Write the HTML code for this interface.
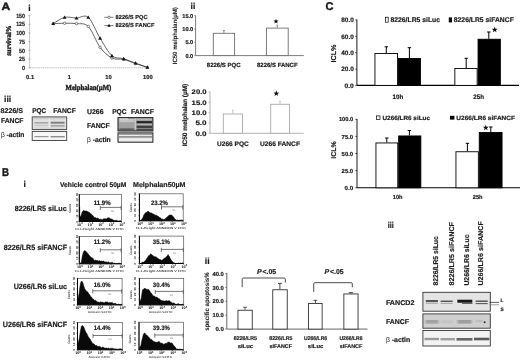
<!DOCTYPE html>
<html lang="en">
<head>
<meta charset="utf-8">
<title>Figure</title>
<style>
html,body{margin:0;padding:0;background:#fff;}
body{width:520px;height:360px;overflow:hidden;font-family:"Liberation Sans",sans-serif;}
svg{display:block;filter:blur(0.4px);}
svg text{font-family:"Liberation Sans",sans-serif;}
</style>
</head>
<body>
<svg width="520" height="360" viewBox="0 0 520 360" text-rendering="geometricPrecision">
<rect x="0" y="0" width="520" height="360" fill="#ffffff"/>
<text x="1.50" y="10.18" font-size="10.5" font-weight="bold" text-anchor="start" fill="#1a1a1a" stroke="#1a1a1a" stroke-width="0.45" textLength="8.70" lengthAdjust="spacingAndGlyphs">A</text>
<text x="325.50" y="9.87" font-size="11.3" font-weight="bold" text-anchor="start" fill="#1a1a1a" stroke="#1a1a1a" stroke-width="0.4" textLength="8.00" lengthAdjust="spacingAndGlyphs">C</text>
<text x="2.00" y="176.17" font-size="11.3" font-weight="bold" text-anchor="start" fill="#1a1a1a" stroke="#1a1a1a" stroke-width="0.4" textLength="7.00" lengthAdjust="spacingAndGlyphs">B</text>
<text x="28.30" y="10.86" font-size="8.5" font-weight="bold" text-anchor="start" fill="#1a1a1a" stroke="#1a1a1a" stroke-width="0.18">i</text>
<line x1="29.60" y1="15.60" x2="29.60" y2="67.80" stroke="#b5b5b5" stroke-width="0.8" />
<line x1="29.60" y1="67.80" x2="148.35" y2="67.80" stroke="#b5b5b5" stroke-width="0.9" stroke-dasharray="1.3 0.6"/>
<line x1="28.40" y1="67.80" x2="30.40" y2="67.80" stroke="#999" stroke-width="0.7" />
<text x="25.00" y="69.96" font-size="6.0" font-weight="bold" text-anchor="end" fill="#1a1a1a" stroke="#1a1a1a" stroke-width="0.18" textLength="3.00" lengthAdjust="spacingAndGlyphs">0</text>
<line x1="28.40" y1="59.10" x2="30.40" y2="59.10" stroke="#999" stroke-width="0.7" />
<text x="25.00" y="61.26" font-size="6.0" font-weight="bold" text-anchor="end" fill="#1a1a1a" stroke="#1a1a1a" stroke-width="0.18" textLength="5.90" lengthAdjust="spacingAndGlyphs">25</text>
<line x1="28.40" y1="50.40" x2="30.40" y2="50.40" stroke="#999" stroke-width="0.7" />
<text x="25.00" y="52.56" font-size="6.0" font-weight="bold" text-anchor="end" fill="#1a1a1a" stroke="#1a1a1a" stroke-width="0.18" textLength="5.90" lengthAdjust="spacingAndGlyphs">50</text>
<line x1="28.40" y1="41.70" x2="30.40" y2="41.70" stroke="#999" stroke-width="0.7" />
<text x="25.00" y="43.86" font-size="6.0" font-weight="bold" text-anchor="end" fill="#1a1a1a" stroke="#1a1a1a" stroke-width="0.18" textLength="5.90" lengthAdjust="spacingAndGlyphs">75</text>
<line x1="28.40" y1="33.00" x2="30.40" y2="33.00" stroke="#999" stroke-width="0.7" />
<text x="25.00" y="35.16" font-size="6.0" font-weight="bold" text-anchor="end" fill="#1a1a1a" stroke="#1a1a1a" stroke-width="0.18" textLength="8.80" lengthAdjust="spacingAndGlyphs">100</text>
<line x1="28.40" y1="24.30" x2="30.40" y2="24.30" stroke="#999" stroke-width="0.7" />
<text x="25.00" y="26.46" font-size="6.0" font-weight="bold" text-anchor="end" fill="#1a1a1a" stroke="#1a1a1a" stroke-width="0.18" textLength="8.80" lengthAdjust="spacingAndGlyphs">125</text>
<line x1="28.40" y1="15.60" x2="30.40" y2="15.60" stroke="#999" stroke-width="0.7" />
<text x="25.00" y="17.76" font-size="6.0" font-weight="bold" text-anchor="end" fill="#1a1a1a" stroke="#1a1a1a" stroke-width="0.18" textLength="8.80" lengthAdjust="spacingAndGlyphs">150</text>
<text x="30.10" y="78.79" font-size="5.8" font-weight="bold" text-anchor="middle" fill="#1a1a1a" stroke="#1a1a1a" stroke-width="0.18">0.1</text>
<text x="69.35" y="78.79" font-size="5.8" font-weight="bold" text-anchor="middle" fill="#1a1a1a" stroke="#1a1a1a" stroke-width="0.18">1</text>
<text x="108.60" y="78.79" font-size="5.8" font-weight="bold" text-anchor="middle" fill="#1a1a1a" stroke="#1a1a1a" stroke-width="0.18">10</text>
<text x="147.85" y="78.79" font-size="5.8" font-weight="bold" text-anchor="middle" fill="#1a1a1a" stroke="#1a1a1a" stroke-width="0.18">100</text>
<text x="88.40" y="89.91" font-size="7.8" font-weight="bold" text-anchor="middle" fill="#1a1a1a" stroke="#1a1a1a" stroke-width="0.4" style='font-family:"Liberation Serif", serif' textLength="45.70" lengthAdjust="spacingAndGlyphs">Melphalan(µM)</text>
<text transform="translate(10.56,40.60) rotate(-90)" font-size="7.4" font-weight="bold" text-anchor="middle" fill="#1a1a1a" stroke="#1a1a1a" stroke-width="0.35" style='font-family:"Liberation Serif", serif' textLength="30.50" lengthAdjust="spacingAndGlyphs">survival%</text>
<path d="M53.23,23.60 C55.05,23.55 60.90,23.26 64.61,23.26 C68.33,23.26 72.67,23.10 76.46,23.60 C80.24,24.11 84.49,22.60 88.27,26.39 C92.05,30.17 96.31,42.20 100.09,47.27 C103.87,52.33 108.12,56.11 111.90,58.06 C115.68,60.00 119.94,58.56 123.72,59.45 C127.50,60.34 131.75,62.37 135.53,63.62 C139.32,64.88 145.46,66.69 147.35,67.28" fill="none" stroke="#333" stroke-width="0.75"/>
<path d="M53.23,23.60 C55.05,22.60 60.90,18.23 64.61,17.34 C68.33,16.45 72.67,18.04 76.46,18.04 C80.24,18.04 84.49,14.11 88.27,17.34 C92.05,20.57 96.31,32.10 100.09,38.22 C103.87,44.34 108.12,52.33 111.90,55.62 C115.68,58.91 119.94,57.55 123.72,58.75 C127.50,59.95 131.75,61.74 135.53,63.10 C139.32,64.47 145.46,66.61 147.35,67.28" fill="none" stroke="#333" stroke-width="0.75"/>
<circle cx="53.23" cy="23.60" r="1.2" fill="#fff" stroke="#333" stroke-width="0.6"/>
<circle cx="64.61" cy="23.26" r="1.2" fill="#fff" stroke="#333" stroke-width="0.6"/>
<circle cx="76.46" cy="23.60" r="1.2" fill="#fff" stroke="#333" stroke-width="0.6"/>
<circle cx="88.27" cy="26.39" r="1.2" fill="#fff" stroke="#333" stroke-width="0.6"/>
<circle cx="100.09" cy="47.27" r="1.2" fill="#fff" stroke="#333" stroke-width="0.6"/>
<circle cx="111.90" cy="58.06" r="1.2" fill="#fff" stroke="#333" stroke-width="0.6"/>
<circle cx="123.72" cy="59.45" r="1.2" fill="#fff" stroke="#333" stroke-width="0.6"/>
<circle cx="135.53" cy="63.62" r="1.2" fill="#fff" stroke="#333" stroke-width="0.6"/>
<circle cx="147.35" cy="67.28" r="1.2" fill="#fff" stroke="#333" stroke-width="0.6"/>
<polygon points="53.23,21.70 51.33,25.12 55.13,25.12" fill="#111"/>
<polygon points="64.61,15.44 62.71,18.86 66.51,18.86" fill="#111"/>
<polygon points="76.46,16.14 74.56,19.56 78.36,19.56" fill="#111"/>
<polygon points="88.27,15.44 86.37,18.86 90.17,18.86" fill="#111"/>
<polygon points="100.09,36.32 98.19,39.74 101.99,39.74" fill="#111"/>
<polygon points="111.90,53.72 110.00,57.14 113.80,57.14" fill="#111"/>
<polygon points="123.72,56.85 121.82,60.27 125.62,60.27" fill="#111"/>
<polygon points="135.53,61.20 133.63,64.62 137.43,64.62" fill="#111"/>
<polygon points="147.35,65.38 145.45,68.80 149.25,68.80" fill="#111"/>
<line x1="104.40" y1="17.30" x2="113.50" y2="17.30" stroke="#444" stroke-width="0.7" />
<circle cx="109.00" cy="17.30" r="1.2" fill="#fff" stroke="#333" stroke-width="0.6"/>
<line x1="104.40" y1="25.60" x2="113.50" y2="25.60" stroke="#444" stroke-width="0.7" />
<polygon points="109.00,23.70 107.30,26.76 110.70,26.76" fill="#111"/>
<text x="115.60" y="19.19" font-size="5.8" font-weight="bold" text-anchor="start" fill="#1a1a1a" stroke="#1a1a1a" stroke-width="0.18" textLength="31.90" lengthAdjust="spacingAndGlyphs">8226/S PQC</text>
<text x="115.60" y="27.39" font-size="5.8" font-weight="bold" text-anchor="start" fill="#1a1a1a" stroke="#1a1a1a" stroke-width="0.18" textLength="38.80" lengthAdjust="spacingAndGlyphs">8226/S FANCF</text>
<text x="190.60" y="9.46" font-size="8.5" font-weight="bold" text-anchor="start" fill="#1a1a1a" stroke="#1a1a1a" stroke-width="0.18">ii</text>
<line x1="195.60" y1="15.50" x2="195.60" y2="55.60" stroke="#6e6e6e" stroke-width="0.9" />
<line x1="195.60" y1="55.60" x2="303.80" y2="55.60" stroke="#6e6e6e" stroke-width="0.9" />
<line x1="194.10" y1="55.60" x2="195.60" y2="55.60" stroke="#6e6e6e" stroke-width="0.7" />
<text x="193.20" y="57.62" font-size="5.6" font-weight="bold" text-anchor="end" fill="#1a1a1a" stroke="#1a1a1a" stroke-width="0.18">0.0</text>
<line x1="194.10" y1="42.27" x2="195.60" y2="42.27" stroke="#6e6e6e" stroke-width="0.7" />
<text x="193.20" y="44.29" font-size="5.6" font-weight="bold" text-anchor="end" fill="#1a1a1a" stroke="#1a1a1a" stroke-width="0.18">5.0</text>
<line x1="194.10" y1="28.94" x2="195.60" y2="28.94" stroke="#6e6e6e" stroke-width="0.7" />
<text x="193.20" y="30.96" font-size="5.6" font-weight="bold" text-anchor="end" fill="#1a1a1a" stroke="#1a1a1a" stroke-width="0.18">10.0</text>
<line x1="194.10" y1="15.61" x2="195.60" y2="15.61" stroke="#6e6e6e" stroke-width="0.7" />
<text x="193.20" y="17.63" font-size="5.6" font-weight="bold" text-anchor="end" fill="#1a1a1a" stroke="#1a1a1a" stroke-width="0.18">15.0</text>
<rect x="213.30" y="33.30" width="21.30" height="22.30" fill="#fff" stroke="#6e6e6e" stroke-width="0.9" />
<rect x="266.40" y="28.10" width="21.80" height="27.50" fill="#fff" stroke="#6e6e6e" stroke-width="0.9" />
<line x1="223.90" y1="30.60" x2="223.90" y2="33.30" stroke="#777" stroke-width="0.8" />
<line x1="222.90" y1="30.60" x2="224.90" y2="30.60" stroke="#777" stroke-width="0.8" />
<line x1="277.30" y1="25.20" x2="277.30" y2="28.10" stroke="#777" stroke-width="0.8" />
<line x1="276.30" y1="25.20" x2="278.30" y2="25.20" stroke="#777" stroke-width="0.8" />
<polygon points="276.00,18.70 276.67,20.48 278.57,20.57 277.08,21.75 277.59,23.58 276.00,22.53 274.41,23.58 274.92,21.75 273.43,20.57 275.33,20.48" fill="#111"/>
<text x="223.70" y="67.36" font-size="6" font-weight="bold" text-anchor="middle" fill="#1a1a1a" stroke="#1a1a1a" stroke-width="0.18" textLength="33.80" lengthAdjust="spacingAndGlyphs">8226/S PQC</text>
<text x="277.30" y="67.36" font-size="6" font-weight="bold" text-anchor="middle" fill="#1a1a1a" stroke="#1a1a1a" stroke-width="0.18" textLength="40.50" lengthAdjust="spacingAndGlyphs">8226/S FANCF</text>
<text transform="translate(177.13,35.80) rotate(-90)" font-size="6.2" font-weight="bold" text-anchor="middle" fill="#1a1a1a" stroke="#1a1a1a" stroke-width="0.05" textLength="57.00" lengthAdjust="spacingAndGlyphs">IC50 melphalan(µM)</text>
<line x1="210.00" y1="91.50" x2="210.00" y2="133.30" stroke="#aaaaaa" stroke-width="0.9" />
<line x1="210.00" y1="133.30" x2="303.80" y2="133.30" stroke="#aaaaaa" stroke-width="0.9" />
<line x1="208.50" y1="133.30" x2="210.00" y2="133.30" stroke="#aaaaaa" stroke-width="0.7" />
<text x="206.60" y="135.68" font-size="6.6" font-weight="bold" text-anchor="end" fill="#1a1a1a" stroke="#1a1a1a" stroke-width="0.18" textLength="11.20" lengthAdjust="spacingAndGlyphs">0.0</text>
<line x1="208.50" y1="122.98" x2="210.00" y2="122.98" stroke="#aaaaaa" stroke-width="0.7" />
<text x="206.60" y="125.36" font-size="6.6" font-weight="bold" text-anchor="end" fill="#1a1a1a" stroke="#1a1a1a" stroke-width="0.18" textLength="11.20" lengthAdjust="spacingAndGlyphs">5.0</text>
<line x1="208.50" y1="112.66" x2="210.00" y2="112.66" stroke="#aaaaaa" stroke-width="0.7" />
<text x="206.60" y="115.04" font-size="6.6" font-weight="bold" text-anchor="end" fill="#1a1a1a" stroke="#1a1a1a" stroke-width="0.18" textLength="15.00" lengthAdjust="spacingAndGlyphs">10.0</text>
<line x1="208.50" y1="102.34" x2="210.00" y2="102.34" stroke="#aaaaaa" stroke-width="0.7" />
<text x="206.60" y="104.72" font-size="6.6" font-weight="bold" text-anchor="end" fill="#1a1a1a" stroke="#1a1a1a" stroke-width="0.18" textLength="15.00" lengthAdjust="spacingAndGlyphs">15.0</text>
<line x1="208.50" y1="92.02" x2="210.00" y2="92.02" stroke="#aaaaaa" stroke-width="0.7" />
<text x="206.60" y="94.40" font-size="6.6" font-weight="bold" text-anchor="end" fill="#1a1a1a" stroke="#1a1a1a" stroke-width="0.18" textLength="15.00" lengthAdjust="spacingAndGlyphs">20.0</text>
<rect x="223.30" y="114.00" width="19.20" height="19.30" fill="#fff" stroke="#aaaaaa" stroke-width="0.9" />
<rect x="270.70" y="104.30" width="18.80" height="29.00" fill="#fff" stroke="#aaaaaa" stroke-width="0.9" />
<line x1="232.80" y1="110.20" x2="232.80" y2="114.00" stroke="#bbb" stroke-width="0.8" />
<line x1="232.00" y1="110.20" x2="233.60" y2="110.20" stroke="#bbb" stroke-width="0.8" />
<line x1="280.00" y1="101.30" x2="280.00" y2="104.30" stroke="#bbb" stroke-width="0.8" />
<line x1="279.20" y1="101.30" x2="280.80" y2="101.30" stroke="#bbb" stroke-width="0.8" />
<polygon points="276.30,90.60 277.04,92.58 279.15,92.67 277.50,93.99 278.06,96.03 276.30,94.86 274.54,96.03 275.10,93.99 273.45,92.67 275.56,92.58" fill="#111"/>
<text x="232.90" y="145.78" font-size="6.6" font-weight="bold" text-anchor="middle" fill="#1a1a1a" stroke="#1a1a1a" stroke-width="0.18" textLength="31.80" lengthAdjust="spacingAndGlyphs">U266 PQC</text>
<text x="280.00" y="145.78" font-size="6.6" font-weight="bold" text-anchor="middle" fill="#1a1a1a" stroke="#1a1a1a" stroke-width="0.18" textLength="40.00" lengthAdjust="spacingAndGlyphs">U266 FANCF</text>
<text transform="translate(187.34,115.00) rotate(-90)" font-size="6.5" font-weight="bold" text-anchor="middle" fill="#1a1a1a" stroke="#1a1a1a" stroke-width="0.18" textLength="62.50" lengthAdjust="spacingAndGlyphs">IC50 melphalan (µM)</text>
<text x="4.00" y="102.06" font-size="8.5" font-weight="bold" text-anchor="start" fill="#1a1a1a" stroke="#1a1a1a" stroke-width="0.18" textLength="7.20" lengthAdjust="spacingAndGlyphs">iii</text>
<text x="0.50" y="113.12" font-size="7.0" font-weight="bold" text-anchor="start" fill="#1a1a1a" stroke="#1a1a1a" stroke-width="0.18" textLength="22.60" lengthAdjust="spacingAndGlyphs">8226/S</text>
<text x="32.20" y="113.12" font-size="7.0" font-weight="bold" text-anchor="start" fill="#1a1a1a" stroke="#1a1a1a" stroke-width="0.18" textLength="14.00" lengthAdjust="spacingAndGlyphs">PQC</text>
<text x="53.30" y="113.12" font-size="7.0" font-weight="bold" text-anchor="start" fill="#1a1a1a" stroke="#1a1a1a" stroke-width="0.18" textLength="22.60" lengthAdjust="spacingAndGlyphs">FANCF</text>
<text x="0.90" y="122.92" font-size="7.0" font-weight="bold" text-anchor="start" fill="#1a1a1a" stroke="#1a1a1a" stroke-width="0.18" textLength="22.60" lengthAdjust="spacingAndGlyphs">FANCF</text>
<text x="0.90" y="136.72" font-size="7.0" font-weight="bold" text-anchor="start" fill="#1a1a1a" stroke="#1a1a1a" stroke-width="0.18" textLength="23.50" lengthAdjust="spacingAndGlyphs"><tspan font-weight="normal" stroke-width="0">β</tspan> -actin</text>
<text x="86.90" y="114.02" font-size="7.0" font-weight="bold" text-anchor="start" fill="#1a1a1a" stroke="#1a1a1a" stroke-width="0.18" textLength="16.60" lengthAdjust="spacingAndGlyphs">U266</text>
<text x="112.20" y="114.02" font-size="7.0" font-weight="bold" text-anchor="start" fill="#1a1a1a" stroke="#1a1a1a" stroke-width="0.18" textLength="14.40" lengthAdjust="spacingAndGlyphs">PQC</text>
<text x="131.00" y="114.02" font-size="7.0" font-weight="bold" text-anchor="start" fill="#1a1a1a" stroke="#1a1a1a" stroke-width="0.18" textLength="23.10" lengthAdjust="spacingAndGlyphs">FANCF</text>
<text x="86.90" y="127.92" font-size="7.0" font-weight="bold" text-anchor="start" fill="#1a1a1a" stroke="#1a1a1a" stroke-width="0.18" textLength="22.90" lengthAdjust="spacingAndGlyphs">FANCF</text>
<text x="86.90" y="142.12" font-size="7.0" font-weight="bold" text-anchor="start" fill="#1a1a1a" stroke="#1a1a1a" stroke-width="0.18" textLength="23.80" lengthAdjust="spacingAndGlyphs"><tspan font-weight="normal" stroke-width="0">β</tspan> -actin</text>
<defs><filter id="b1" x="-10%" y="-50%" width="120%" height="200%"><feGaussianBlur stdDeviation="0.7 0.45"/></filter><filter id="b2" x="-10%" y="-50%" width="120%" height="200%"><feGaussianBlur stdDeviation="0.9 0.6"/></filter><filter id="b3" x="-10%" y="-80%" width="120%" height="260%"><feGaussianBlur stdDeviation="0.5 0.3"/></filter></defs>
<rect x="32.20" y="116.90" width="34.50" height="12.70" fill="#e2e2e2" stroke="none" stroke-width="1" />
<rect x="33.50" y="117.90" width="32.00" height="1.40" fill="#cfcfcf" opacity="1" filter="url(#b2)"/>
<rect x="34.50" y="122.00" width="13.80" height="1.60" fill="#a6a6a6" opacity="1" filter="url(#b1)"/>
<rect x="34.50" y="124.80" width="13.80" height="1.40" fill="#c6c6c6" opacity="1" filter="url(#b1)"/>
<rect x="50.70" y="121.75" width="13.90" height="1.90" fill="#7e7e7e" opacity="1" filter="url(#b1)"/>
<rect x="50.70" y="124.95" width="13.90" height="1.70" fill="#a4a4a4" opacity="1" filter="url(#b1)"/>
<rect x="34.50" y="127.50" width="30.10" height="1.00" fill="#d0d0d0" opacity="1" filter="url(#b2)"/>
<line x1="49.30" y1="118.00" x2="49.30" y2="128.60" stroke="#ececec" stroke-width="0.8" />
<rect x="32.20" y="116.90" width="34.50" height="12.70" fill="none" stroke="#3c3c3c" stroke-width="0.9" />
<rect x="32.20" y="131.40" width="34.50" height="9.10" fill="#f6f6f6" stroke="none" stroke-width="1" />
<rect x="34.50" y="136.25" width="14.00" height="0.90" fill="#777" opacity="1" filter="url(#b3)"/>
<rect x="50.50" y="136.30" width="14.30" height="1.00" fill="#666" opacity="1" filter="url(#b3)"/>
<rect x="32.20" y="131.40" width="34.50" height="9.10" fill="none" stroke="#3c3c3c" stroke-width="0.9" />
<rect x="118.00" y="117.60" width="34.90" height="13.40" fill="#a0a0a0" stroke="none" stroke-width="1" />
<rect x="119.00" y="119.00" width="15.50" height="3.20" fill="#c6c6c6" opacity="1" filter="url(#b2)"/>
<rect x="119.00" y="123.10" width="15.50" height="3.00" fill="#a2a2a2" opacity="1" filter="url(#b2)"/>
<rect x="119.00" y="128.40" width="15.50" height="2.00" fill="#5c5c5c" opacity="1" filter="url(#b2)"/>
<rect x="134.60" y="118.25" width="1.60" height="11.50" fill="#d2d2d2" opacity="0.8" filter="url(#b1)"/>
<rect x="136.60" y="118.60" width="15.40" height="1.20" fill="#bdbdbd" opacity="1" filter="url(#b1)"/>
<rect x="136.60" y="121.15" width="15.40" height="2.10" fill="#202020" opacity="1" filter="url(#b1)"/>
<rect x="136.60" y="123.95" width="15.40" height="1.30" fill="#b2b2b2" opacity="1" filter="url(#b1)"/>
<rect x="136.60" y="125.60" width="15.40" height="2.40" fill="#404040" opacity="1" filter="url(#b1)"/>
<rect x="136.60" y="128.70" width="15.40" height="1.80" fill="#4a4a4a" opacity="1" filter="url(#b1)"/>
<rect x="119.20" y="118.40" width="8.80" height="0.80" fill="#f2f2f2" opacity="1" filter="url(#b3)"/>
<rect x="118.00" y="117.60" width="34.90" height="13.40" fill="none" stroke="#1e1e1e" stroke-width="1.0" />
<rect x="118.00" y="132.90" width="34.90" height="9.30" fill="#e6e6e6" stroke="none" stroke-width="1" />
<rect x="119.00" y="133.50" width="33.00" height="1.40" fill="#9a9a9a" opacity="1" filter="url(#b1)"/>
<rect x="119.50" y="135.05" width="18.50" height="0.70" fill="#f4f4f4" opacity="1" filter="url(#b3)"/>
<rect x="119.00" y="136.15" width="33.00" height="1.50" fill="#868686" opacity="1" filter="url(#b1)"/>
<rect x="119.00" y="138.90" width="33.00" height="2.20" fill="#ececec" opacity="1" filter="url(#b1)"/>
<rect x="118.00" y="132.90" width="34.90" height="9.30" fill="none" stroke="#1e1e1e" stroke-width="1.0" />
<line x1="356.90" y1="19.50" x2="356.90" y2="85.40" stroke="#000" stroke-width="0.9" />
<line x1="356.90" y1="85.40" x2="519.00" y2="85.40" stroke="#000" stroke-width="1.1" />
<line x1="355.30" y1="85.40" x2="356.90" y2="85.40" stroke="#000" stroke-width="0.7" />
<text x="353.80" y="87.70" font-size="6.4" font-weight="bold" text-anchor="end" fill="#1a1a1a" stroke="#1a1a1a" stroke-width="0.18" textLength="9.30" lengthAdjust="spacingAndGlyphs">0.0</text>
<line x1="355.30" y1="69.05" x2="356.90" y2="69.05" stroke="#000" stroke-width="0.7" />
<text x="353.80" y="71.35" font-size="6.4" font-weight="bold" text-anchor="end" fill="#1a1a1a" stroke="#1a1a1a" stroke-width="0.18" textLength="12.50" lengthAdjust="spacingAndGlyphs">20.0</text>
<line x1="355.30" y1="52.70" x2="356.90" y2="52.70" stroke="#000" stroke-width="0.7" />
<text x="353.80" y="55.00" font-size="6.4" font-weight="bold" text-anchor="end" fill="#1a1a1a" stroke="#1a1a1a" stroke-width="0.18" textLength="12.50" lengthAdjust="spacingAndGlyphs">40.0</text>
<line x1="355.30" y1="36.35" x2="356.90" y2="36.35" stroke="#000" stroke-width="0.7" />
<text x="353.80" y="38.65" font-size="6.4" font-weight="bold" text-anchor="end" fill="#1a1a1a" stroke="#1a1a1a" stroke-width="0.18" textLength="12.50" lengthAdjust="spacingAndGlyphs">60.0</text>
<line x1="355.30" y1="20.00" x2="356.90" y2="20.00" stroke="#000" stroke-width="0.7" />
<text x="353.80" y="22.30" font-size="6.4" font-weight="bold" text-anchor="end" fill="#1a1a1a" stroke="#1a1a1a" stroke-width="0.18" textLength="12.50" lengthAdjust="spacingAndGlyphs">80.0</text>
<text transform="translate(335.59,53.50) rotate(-90)" font-size="7.2" font-weight="bold" text-anchor="middle" fill="#1a1a1a" stroke="#1a1a1a" stroke-width="0.18" textLength="18.00" lengthAdjust="spacingAndGlyphs">ICL%</text>
<rect x="374.95" y="53.45" width="22.60" height="31.95" fill="#fff" stroke="#000" stroke-width="0.9" />
<line x1="386.30" y1="46.80" x2="386.30" y2="53.00" stroke="#000" stroke-width="1.0" />
<line x1="384.60" y1="46.80" x2="388.00" y2="46.80" stroke="#000" stroke-width="1.0" />
<rect x="398.45" y="58.45" width="22.00" height="26.95" fill="#000" stroke="#000" stroke-width="0.9" />
<line x1="409.40" y1="47.70" x2="409.40" y2="58.00" stroke="#000" stroke-width="1.0" />
<line x1="407.70" y1="47.70" x2="411.10" y2="47.70" stroke="#000" stroke-width="1.0" />
<rect x="454.85" y="68.45" width="22.30" height="16.95" fill="#fff" stroke="#000" stroke-width="0.9" />
<line x1="466.20" y1="58.30" x2="466.20" y2="68.00" stroke="#000" stroke-width="1.0" />
<line x1="464.50" y1="58.30" x2="467.90" y2="58.30" stroke="#000" stroke-width="1.0" />
<rect x="478.05" y="39.25" width="22.30" height="46.15" fill="#000" stroke="#000" stroke-width="0.9" />
<line x1="488.80" y1="32.00" x2="488.80" y2="38.80" stroke="#000" stroke-width="1.0" />
<line x1="487.10" y1="32.00" x2="490.50" y2="32.00" stroke="#000" stroke-width="1.0" />
<polygon points="494.70,26.70 495.47,28.75 497.65,28.84 495.94,30.20 496.52,32.31 494.70,31.10 492.88,32.31 493.46,30.20 491.75,28.84 493.93,28.75" fill="#111"/>
<rect x="385.60" y="17.20" width="2.60" height="5.00" fill="#fff" stroke="#000" stroke-width="0.7" />
<text x="390.50" y="22.05" font-size="6.8" font-weight="bold" text-anchor="start" fill="#1a1a1a" stroke="#1a1a1a" stroke-width="0.18" textLength="49.50" lengthAdjust="spacingAndGlyphs">8226/LR5 siLuc</text>
<rect x="448.80" y="17.40" width="3.20" height="5.00" fill="#000" stroke="none" stroke-width="1" />
<text x="453.80" y="22.05" font-size="6.8" font-weight="bold" text-anchor="start" fill="#1a1a1a" stroke="#1a1a1a" stroke-width="0.18" textLength="60.00" lengthAdjust="spacingAndGlyphs">8226/LR5 siFANCF</text>
<text x="398.00" y="98.60" font-size="6.4" font-weight="bold" text-anchor="middle" fill="#1a1a1a" stroke="#1a1a1a" stroke-width="0.18" textLength="10.80" lengthAdjust="spacingAndGlyphs">10h</text>
<text x="478.60" y="98.60" font-size="6.4" font-weight="bold" text-anchor="middle" fill="#1a1a1a" stroke="#1a1a1a" stroke-width="0.18" textLength="10.80" lengthAdjust="spacingAndGlyphs">25h</text>
<line x1="357.00" y1="119.00" x2="357.00" y2="187.80" stroke="#000" stroke-width="0.9" />
<line x1="357.00" y1="187.80" x2="520.00" y2="187.80" stroke="#000" stroke-width="1.1" />
<line x1="355.40" y1="187.80" x2="357.00" y2="187.80" stroke="#000" stroke-width="0.7" />
<text x="353.20" y="189.89" font-size="5.8" font-weight="bold" text-anchor="end" fill="#1a1a1a" stroke="#1a1a1a" stroke-width="0.18" textLength="8.60" lengthAdjust="spacingAndGlyphs">0.0</text>
<line x1="355.40" y1="170.67" x2="357.00" y2="170.67" stroke="#000" stroke-width="0.7" />
<text x="353.20" y="172.76" font-size="5.8" font-weight="bold" text-anchor="end" fill="#1a1a1a" stroke="#1a1a1a" stroke-width="0.18" textLength="11.60" lengthAdjust="spacingAndGlyphs">25.0</text>
<line x1="355.40" y1="153.54" x2="357.00" y2="153.54" stroke="#000" stroke-width="0.7" />
<text x="353.20" y="155.63" font-size="5.8" font-weight="bold" text-anchor="end" fill="#1a1a1a" stroke="#1a1a1a" stroke-width="0.18" textLength="11.60" lengthAdjust="spacingAndGlyphs">50.0</text>
<line x1="355.40" y1="136.41" x2="357.00" y2="136.41" stroke="#000" stroke-width="0.7" />
<text x="353.20" y="138.50" font-size="5.8" font-weight="bold" text-anchor="end" fill="#1a1a1a" stroke="#1a1a1a" stroke-width="0.18" textLength="11.60" lengthAdjust="spacingAndGlyphs">75.0</text>
<line x1="355.40" y1="119.28" x2="357.00" y2="119.28" stroke="#000" stroke-width="0.7" />
<text x="353.20" y="121.37" font-size="5.8" font-weight="bold" text-anchor="end" fill="#1a1a1a" stroke="#1a1a1a" stroke-width="0.18" textLength="14.30" lengthAdjust="spacingAndGlyphs">100.0</text>
<text transform="translate(335.52,150.00) rotate(-90)" font-size="7.0" font-weight="bold" text-anchor="middle" fill="#1a1a1a" stroke="#1a1a1a" stroke-width="0.18" textLength="17.50" lengthAdjust="spacingAndGlyphs">ICL%</text>
<rect x="375.95" y="142.95" width="21.80" height="44.85" fill="#fff" stroke="#000" stroke-width="0.9" />
<line x1="386.80" y1="138.00" x2="386.80" y2="142.50" stroke="#000" stroke-width="1.0" />
<line x1="385.10" y1="138.00" x2="388.50" y2="138.00" stroke="#000" stroke-width="1.0" />
<rect x="398.65" y="135.95" width="22.20" height="51.85" fill="#000" stroke="#000" stroke-width="0.9" />
<line x1="409.40" y1="130.50" x2="409.40" y2="135.50" stroke="#000" stroke-width="1.0" />
<line x1="407.70" y1="130.50" x2="411.10" y2="130.50" stroke="#000" stroke-width="1.0" />
<rect x="455.95" y="151.75" width="22.40" height="36.05" fill="#fff" stroke="#000" stroke-width="0.9" />
<line x1="467.40" y1="143.30" x2="467.40" y2="151.30" stroke="#000" stroke-width="1.0" />
<line x1="465.70" y1="143.30" x2="469.10" y2="143.30" stroke="#000" stroke-width="1.0" />
<rect x="479.25" y="132.45" width="22.80" height="55.35" fill="#000" stroke="#000" stroke-width="0.9" />
<line x1="490.80" y1="127.00" x2="490.80" y2="132.00" stroke="#000" stroke-width="1.0" />
<line x1="489.10" y1="127.00" x2="492.50" y2="127.00" stroke="#000" stroke-width="1.0" />
<polygon points="485.80,124.80 486.54,126.78 488.65,126.87 487.00,128.19 487.56,130.23 485.80,129.06 484.04,130.23 484.60,128.19 482.95,126.87 485.06,126.78" fill="#111"/>
<rect x="376.50" y="115.90" width="3.50" height="3.50" fill="#fff" stroke="#000" stroke-width="0.7" />
<text x="382.50" y="119.83" font-size="6.2" font-weight="bold" text-anchor="start" fill="#1a1a1a" stroke="#1a1a1a" stroke-width="0.18" textLength="47.50" lengthAdjust="spacingAndGlyphs">U266/LR6 siLuc</text>
<rect x="450.00" y="115.80" width="4.40" height="3.80" fill="#000" stroke="none" stroke-width="1" />
<text x="456.30" y="119.83" font-size="6.2" font-weight="bold" text-anchor="start" fill="#1a1a1a" stroke="#1a1a1a" stroke-width="0.18" textLength="58.70" lengthAdjust="spacingAndGlyphs">U266/LR6 siFANCF</text>
<text x="397.70" y="199.39" font-size="5.8" font-weight="bold" text-anchor="middle" fill="#1a1a1a" stroke="#1a1a1a" stroke-width="0.18" textLength="9.80" lengthAdjust="spacingAndGlyphs">10h</text>
<text x="477.70" y="199.39" font-size="5.8" font-weight="bold" text-anchor="middle" fill="#1a1a1a" stroke="#1a1a1a" stroke-width="0.18" textLength="9.80" lengthAdjust="spacingAndGlyphs">25h</text>
<text x="387.80" y="227.56" font-size="8.5" font-weight="bold" text-anchor="start" fill="#1a1a1a" stroke="#1a1a1a" stroke-width="0.18" textLength="6.00" lengthAdjust="spacingAndGlyphs">iii</text>
<text transform="translate(438.42,285.60) rotate(-90)" font-size="7.0" font-weight="bold" text-anchor="start" fill="#1a1a1a" stroke="#1a1a1a" stroke-width="0.18" textLength="49.30" lengthAdjust="spacingAndGlyphs">8226/LR5 siLuc</text>
<text transform="translate(453.62,285.60) rotate(-90)" font-size="7.0" font-weight="bold" text-anchor="start" fill="#1a1a1a" stroke="#1a1a1a" stroke-width="0.18" textLength="63.60" lengthAdjust="spacingAndGlyphs">8226/LR5 siFANCF</text>
<text transform="translate(468.72,285.60) rotate(-90)" font-size="7.0" font-weight="bold" text-anchor="start" fill="#1a1a1a" stroke="#1a1a1a" stroke-width="0.18" textLength="51.20" lengthAdjust="spacingAndGlyphs">U266/LR6 siLuc</text>
<text transform="translate(483.42,285.60) rotate(-90)" font-size="7.0" font-weight="bold" text-anchor="start" fill="#1a1a1a" stroke="#1a1a1a" stroke-width="0.18" textLength="64.40" lengthAdjust="spacingAndGlyphs">U266/LR6 siFANCF</text>
<text x="385.90" y="304.82" font-size="7.0" font-weight="bold" text-anchor="start" fill="#1a1a1a" stroke="#1a1a1a" stroke-width="0.18" textLength="28.60" lengthAdjust="spacingAndGlyphs">FANCD2</text>
<text x="385.90" y="324.22" font-size="7.0" font-weight="bold" text-anchor="start" fill="#1a1a1a" stroke="#1a1a1a" stroke-width="0.18" textLength="23.20" lengthAdjust="spacingAndGlyphs">FANCF</text>
<text x="385.90" y="342.32" font-size="7.0" font-weight="bold" text-anchor="start" fill="#1a1a1a" stroke="#1a1a1a" stroke-width="0.18" textLength="24.30" lengthAdjust="spacingAndGlyphs"><tspan font-weight="normal" stroke-width="0">β</tspan> -actin</text>
<rect x="422.90" y="292.30" width="67.40" height="18.90" fill="#e4e4e4" stroke="none" stroke-width="1" />
<rect x="425.80" y="300.15" width="12.10" height="1.70" fill="#3c3c3c" opacity="1" filter="url(#b1)"/>
<rect x="425.80" y="302.70" width="12.10" height="1.00" fill="#9a9a9a" opacity="1" filter="url(#b1)"/>
<rect x="440.60" y="300.55" width="12.10" height="1.50" fill="#555" opacity="1" filter="url(#b1)"/>
<rect x="440.60" y="303.00" width="12.10" height="1.00" fill="#aaa" opacity="1" filter="url(#b1)"/>
<rect x="457.40" y="299.70" width="14.90" height="3.00" fill="#141414" opacity="1" filter="url(#b1)"/>
<rect x="462.00" y="302.90" width="10.50" height="1.00" fill="#555" opacity="1" filter="url(#b1)"/>
<rect x="475.60" y="300.55" width="12.10" height="1.30" fill="#444" opacity="1" filter="url(#b1)"/>
<rect x="475.60" y="303.05" width="12.10" height="1.10" fill="#5a5a5a" opacity="1" filter="url(#b1)"/>
<rect x="422.90" y="292.30" width="67.40" height="18.90" fill="none" stroke="#333" stroke-width="0.9" />
<line x1="489.50" y1="302.40" x2="499.00" y2="302.40" stroke="#222" stroke-width="0.7" />
<line x1="489.50" y1="304.80" x2="499.00" y2="304.80" stroke="#777" stroke-width="0.7" />
<text x="500.60" y="302.43" font-size="4.8" font-weight="bold" text-anchor="start" fill="#1a1a1a" stroke="#1a1a1a" stroke-width="0.18">L</text>
<text x="500.40" y="310.53" font-size="4.8" font-weight="bold" text-anchor="start" fill="#1a1a1a" stroke="#1a1a1a" stroke-width="0.18">S</text>
<rect x="422.90" y="313.90" width="67.40" height="14.30" fill="#cfcfcf" stroke="none" stroke-width="1" />
<rect x="425.50" y="320.00" width="13.00" height="3.60" fill="#a2a2a2" opacity="1" filter="url(#b2)"/>
<rect x="441.00" y="320.30" width="12.00" height="3.00" fill="#c4c4c4" opacity="1" filter="url(#b2)"/>
<rect x="457.50" y="320.00" width="14.00" height="3.60" fill="#9e9e9e" opacity="1" filter="url(#b2)"/>
<rect x="475.50" y="319.80" width="7.50" height="2.40" fill="#bdbdbd" opacity="1" filter="url(#b2)"/>
<circle cx="484.6" cy="322.2" r="1.0" fill="#333" filter="url(#b3)"/>
<rect x="422.90" y="313.90" width="67.40" height="14.30" fill="none" stroke="#333" stroke-width="0.9" />
<rect x="422.90" y="330.50" width="67.40" height="15.50" fill="#f3f3f3" stroke="none" stroke-width="1" />
<rect x="424.50" y="337.80" width="14.50" height="2.40" fill="#9a9a9a" opacity="1" filter="url(#b1)"/>
<rect x="440.50" y="338.00" width="14.50" height="2.40" fill="#a0a0a0" opacity="1" filter="url(#b1)"/>
<rect x="456.50" y="338.00" width="16.00" height="2.60" fill="#666" opacity="1" filter="url(#b1)"/>
<rect x="474.00" y="337.70" width="15.30" height="2.60" fill="#5a5a5a" opacity="1" filter="url(#b1)"/>
<rect x="422.90" y="330.50" width="67.40" height="15.50" fill="none" stroke="#333" stroke-width="0.9" />
<text x="23.60" y="186.66" font-size="8.5" font-weight="bold" text-anchor="start" fill="#1a1a1a" stroke="#1a1a1a" stroke-width="0.18">i</text>
<text x="60.00" y="186.98" font-size="6.9" font-weight="bold" text-anchor="start" fill="#1a1a1a" stroke="#1a1a1a" stroke-width="0.18" textLength="66.30" lengthAdjust="spacingAndGlyphs">Vehicle control 50µM</text>
<text x="133.00" y="187.02" font-size="7.0" font-weight="bold" text-anchor="start" fill="#1a1a1a" stroke="#1a1a1a" stroke-width="0.18" textLength="52.50" lengthAdjust="spacingAndGlyphs">Melphalan50µM</text>
<text x="14.70" y="211.00" font-size="7.5" font-weight="bold" text-anchor="start" fill="#1a1a1a" stroke="#1a1a1a" stroke-width="0.18" textLength="52.00" lengthAdjust="spacingAndGlyphs">8226/LR5 siLuc</text>
<text x="3.80" y="249.70" font-size="7.5" font-weight="bold" text-anchor="start" fill="#1a1a1a" stroke="#1a1a1a" stroke-width="0.18" textLength="63.30" lengthAdjust="spacingAndGlyphs">8226/LR5 siFANCF</text>
<text x="13.70" y="288.50" font-size="7.5" font-weight="bold" text-anchor="start" fill="#1a1a1a" stroke="#1a1a1a" stroke-width="0.18" textLength="53.40" lengthAdjust="spacingAndGlyphs">U266/LR6 siLuc</text>
<text x="2.80" y="327.10" font-size="7.5" font-weight="bold" text-anchor="start" fill="#1a1a1a" stroke="#1a1a1a" stroke-width="0.18" textLength="64.30" lengthAdjust="spacingAndGlyphs">U266/LR6 siFANCF</text>
<path d="M79.80,221.50 L79.80,216.50 L80.90,216.20 L82.00,212.50 L82.90,211.00 L83.80,210.30 L84.53,210.92 L85.27,211.06 L86.00,211.00 L86.72,211.01 L87.44,211.55 L88.16,211.78 L88.88,212.29 L89.60,212.40 L90.40,213.65 L91.20,213.82 L92.00,215.20 L93.00,215.58 L94.00,217.00 L94.75,217.67 L95.50,217.53 L96.25,218.19 L97.00,218.20 L97.83,217.93 L98.65,218.69 L99.47,219.27 L100.30,219.30 L101.04,218.98 L101.78,219.75 L102.52,219.68 L103.26,218.70 L104.00,219.20 L104.75,218.45 L105.50,218.80 L106.25,219.01 L107.00,218.30 L107.80,217.92 L108.60,217.80 L109.55,217.99 L110.50,218.80 L111.20,219.01 L111.90,218.88 L112.60,219.39 L113.30,219.93 L114.00,220.30 L114.80,220.42 L115.60,220.25 L116.40,220.36 L117.20,220.47 L118.00,220.90 L118.75,220.91 L119.50,220.77 L120.25,220.52 L121.00,221.10 L121.00,221.50 Z" fill="#0a0a0a" stroke="#0a0a0a" stroke-width="0.5" stroke-linejoin="round"/>
<rect x="79.30" y="194.30" width="42.20" height="27.20" fill="none" stroke="#555" stroke-width="0.7" />
<line x1="79.30" y1="194.30" x2="79.30" y2="221.50" stroke="#000" stroke-width="1.0" />
<line x1="79.30" y1="221.50" x2="121.50" y2="221.50" stroke="#000" stroke-width="1.1" />
<line x1="79.60" y1="206.80" x2="79.60" y2="221.50" stroke="#000" stroke-width="1.0" />
<line x1="78.30" y1="194.30" x2="79.30" y2="194.30" stroke="#333" stroke-width="0.5" />
<text transform="translate(77.74,194.40) rotate(-90)" font-size="2.9" font-weight="bold" text-anchor="middle" fill="#222" stroke="#222" stroke-width="0">50</text>
<line x1="78.30" y1="199.74" x2="79.30" y2="199.74" stroke="#333" stroke-width="0.5" />
<text transform="translate(77.74,199.84) rotate(-90)" font-size="2.9" font-weight="bold" text-anchor="middle" fill="#222" stroke="#222" stroke-width="0">40</text>
<line x1="78.30" y1="205.18" x2="79.30" y2="205.18" stroke="#333" stroke-width="0.5" />
<text transform="translate(77.74,205.28) rotate(-90)" font-size="2.9" font-weight="bold" text-anchor="middle" fill="#222" stroke="#222" stroke-width="0">30</text>
<line x1="78.30" y1="210.62" x2="79.30" y2="210.62" stroke="#333" stroke-width="0.5" />
<text transform="translate(77.74,210.72) rotate(-90)" font-size="2.9" font-weight="bold" text-anchor="middle" fill="#222" stroke="#222" stroke-width="0">20</text>
<line x1="78.30" y1="216.06" x2="79.30" y2="216.06" stroke="#333" stroke-width="0.5" />
<text transform="translate(77.74,216.16) rotate(-90)" font-size="2.9" font-weight="bold" text-anchor="middle" fill="#222" stroke="#222" stroke-width="0">10</text>
<line x1="78.30" y1="221.50" x2="79.30" y2="221.50" stroke="#333" stroke-width="0.5" />
<text transform="translate(77.74,221.60) rotate(-90)" font-size="2.9" font-weight="bold" text-anchor="middle" fill="#222" stroke="#222" stroke-width="0">0</text>
<text transform="translate(71.19,208.20) rotate(-90)" font-size="3.3" font-weight="bold" text-anchor="middle" fill="#444" stroke="#444" stroke-width="0" textLength="8.80" lengthAdjust="spacingAndGlyphs">Counts</text>
<line x1="79.30" y1="221.50" x2="79.30" y2="222.80" stroke="#222" stroke-width="0.6" />
<text x="79.90" y="225.80" font-size="3.7" font-weight="bold" text-anchor="middle" fill="#000">10<tspan dy="-1.5" font-size="2.8">0</tspan></text>
<line x1="89.85" y1="221.50" x2="89.85" y2="222.80" stroke="#222" stroke-width="0.6" />
<text x="90.45" y="225.80" font-size="3.7" font-weight="bold" text-anchor="middle" fill="#000">10<tspan dy="-1.5" font-size="2.8">1</tspan></text>
<line x1="100.40" y1="221.50" x2="100.40" y2="222.80" stroke="#222" stroke-width="0.6" />
<text x="101.00" y="225.80" font-size="3.7" font-weight="bold" text-anchor="middle" fill="#000">10<tspan dy="-1.5" font-size="2.8">2</tspan></text>
<line x1="110.95" y1="221.50" x2="110.95" y2="222.80" stroke="#222" stroke-width="0.6" />
<text x="111.55" y="225.80" font-size="3.7" font-weight="bold" text-anchor="middle" fill="#000">10<tspan dy="-1.5" font-size="2.8">3</tspan></text>
<line x1="121.50" y1="221.50" x2="121.50" y2="222.80" stroke="#222" stroke-width="0.6" />
<text x="122.10" y="225.80" font-size="3.7" font-weight="bold" text-anchor="middle" fill="#000">10<tspan dy="-1.5" font-size="2.8">4</tspan></text>
<text x="99.65" y="230.08" font-size="3.0" font-weight="bold" text-anchor="middle" fill="#4a4a4a" stroke="#4a4a4a" stroke-width="0" textLength="48.70" lengthAdjust="spacingAndGlyphs">FL1-Height ANNEXIN V FITC</text>
<line x1="100.30" y1="207.40" x2="121.10" y2="207.40" stroke="#555" stroke-width="0.8" />
<line x1="100.30" y1="205.80" x2="100.30" y2="210.00" stroke="#555" stroke-width="0.8" />
<line x1="121.10" y1="205.80" x2="121.10" y2="210.00" stroke="#555" stroke-width="0.8" />
<text x="112.70" y="211.56" font-size="2.4" font-weight="normal" text-anchor="middle" fill="#888" stroke="#888" stroke-width="0">M1</text>
<text x="102.20" y="205.04" font-size="6.5" font-weight="bold" text-anchor="middle" fill="#1a1a1a" stroke="#1a1a1a" stroke-width="0.18" textLength="17.00" lengthAdjust="spacingAndGlyphs">11.9%</text>
<path d="M140.40,220.70 L140.40,220.40 L141.20,220.06 L142.00,218.80 L142.83,217.65 L143.67,215.16 L144.50,214.00 L145.50,212.73 L146.50,212.30 L147.25,211.99 L148.00,211.00 L149.00,212.04 L150.00,212.60 L150.75,213.07 L151.50,213.01 L152.25,213.61 L153.00,213.80 L154.00,214.46 L155.00,214.90 L155.75,215.31 L156.50,215.21 L157.25,215.81 L158.00,216.20 L158.87,216.69 L159.73,217.62 L160.60,218.00 L161.55,218.94 L162.50,218.90 L163.45,219.55 L164.40,219.30 L165.45,218.49 L166.50,217.60 L167.50,216.64 L168.50,215.80 L169.55,215.12 L170.60,214.90 L171.55,214.99 L172.50,216.00 L173.50,216.83 L174.50,218.60 L175.40,219.36 L176.30,220.20 L177.04,220.04 L177.79,220.12 L178.53,220.66 L179.28,220.31 L180.02,220.37 L180.77,220.07 L181.51,219.88 L182.26,220.20 L183.00,220.40 L183.00,220.70 Z" fill="#0a0a0a" stroke="#0a0a0a" stroke-width="0.5" stroke-linejoin="round"/>
<rect x="139.40" y="193.80" width="43.80" height="26.90" fill="none" stroke="#555" stroke-width="0.7" />
<line x1="139.40" y1="193.80" x2="139.40" y2="220.70" stroke="#000" stroke-width="1.0" />
<line x1="139.40" y1="220.70" x2="183.20" y2="220.70" stroke="#000" stroke-width="1.1" />
<line x1="138.40" y1="193.80" x2="139.40" y2="193.80" stroke="#333" stroke-width="0.5" />
<text transform="translate(135.74,193.90) rotate(-90)" font-size="2.9" font-weight="bold" text-anchor="middle" fill="#222" stroke="#222" stroke-width="0">50</text>
<line x1="138.40" y1="199.18" x2="139.40" y2="199.18" stroke="#333" stroke-width="0.5" />
<text transform="translate(135.74,199.28) rotate(-90)" font-size="2.9" font-weight="bold" text-anchor="middle" fill="#222" stroke="#222" stroke-width="0">40</text>
<line x1="138.40" y1="204.56" x2="139.40" y2="204.56" stroke="#333" stroke-width="0.5" />
<text transform="translate(135.74,204.66) rotate(-90)" font-size="2.9" font-weight="bold" text-anchor="middle" fill="#222" stroke="#222" stroke-width="0">30</text>
<line x1="138.40" y1="209.94" x2="139.40" y2="209.94" stroke="#333" stroke-width="0.5" />
<text transform="translate(135.74,210.04) rotate(-90)" font-size="2.9" font-weight="bold" text-anchor="middle" fill="#222" stroke="#222" stroke-width="0">20</text>
<line x1="138.40" y1="215.32" x2="139.40" y2="215.32" stroke="#333" stroke-width="0.5" />
<text transform="translate(135.74,215.42) rotate(-90)" font-size="2.9" font-weight="bold" text-anchor="middle" fill="#222" stroke="#222" stroke-width="0">10</text>
<line x1="138.40" y1="220.70" x2="139.40" y2="220.70" stroke="#333" stroke-width="0.5" />
<text transform="translate(135.74,220.80) rotate(-90)" font-size="2.9" font-weight="bold" text-anchor="middle" fill="#222" stroke="#222" stroke-width="0">0</text>
<text transform="translate(132.19,207.55) rotate(-90)" font-size="3.3" font-weight="bold" text-anchor="middle" fill="#444" stroke="#444" stroke-width="0" textLength="8.80" lengthAdjust="spacingAndGlyphs">Counts</text>
<line x1="139.40" y1="220.70" x2="139.40" y2="222.00" stroke="#222" stroke-width="0.6" />
<text x="140.00" y="225.00" font-size="3.7" font-weight="bold" text-anchor="middle" fill="#000">10<tspan dy="-1.5" font-size="2.8">0</tspan></text>
<line x1="150.35" y1="220.70" x2="150.35" y2="222.00" stroke="#222" stroke-width="0.6" />
<text x="150.95" y="225.00" font-size="3.7" font-weight="bold" text-anchor="middle" fill="#000">10<tspan dy="-1.5" font-size="2.8">1</tspan></text>
<line x1="161.30" y1="220.70" x2="161.30" y2="222.00" stroke="#222" stroke-width="0.6" />
<text x="161.90" y="225.00" font-size="3.7" font-weight="bold" text-anchor="middle" fill="#000">10<tspan dy="-1.5" font-size="2.8">2</tspan></text>
<line x1="172.25" y1="220.70" x2="172.25" y2="222.00" stroke="#222" stroke-width="0.6" />
<text x="172.85" y="225.00" font-size="3.7" font-weight="bold" text-anchor="middle" fill="#000">10<tspan dy="-1.5" font-size="2.8">3</tspan></text>
<line x1="183.20" y1="220.70" x2="183.20" y2="222.00" stroke="#222" stroke-width="0.6" />
<text x="183.80" y="225.00" font-size="3.7" font-weight="bold" text-anchor="middle" fill="#000">10<tspan dy="-1.5" font-size="2.8">4</tspan></text>
<text x="161.00" y="229.28" font-size="3.0" font-weight="bold" text-anchor="middle" fill="#4a4a4a" stroke="#4a4a4a" stroke-width="0" textLength="50.00" lengthAdjust="spacingAndGlyphs">FL1-Height ANNEXIN V FITC</text>
<line x1="161.50" y1="206.80" x2="182.80" y2="206.80" stroke="#555" stroke-width="0.8" />
<line x1="161.50" y1="205.20" x2="161.50" y2="209.40" stroke="#555" stroke-width="0.8" />
<line x1="182.80" y1="205.20" x2="182.80" y2="209.40" stroke="#555" stroke-width="0.8" />
<text x="174.00" y="210.96" font-size="2.4" font-weight="normal" text-anchor="middle" fill="#888" stroke="#888" stroke-width="0">M1</text>
<text x="159.40" y="205.04" font-size="6.5" font-weight="bold" text-anchor="middle" fill="#1a1a1a" stroke="#1a1a1a" stroke-width="0.18" textLength="17.00" lengthAdjust="spacingAndGlyphs">23.2%</text>
<path d="M80.20,263.70 L80.20,263.40 L81.40,262.00 L82.30,256.00 L83.50,251.80 L84.60,250.60 L85.55,250.99 L86.50,252.00 L87.33,253.05 L88.17,253.84 L89.00,255.00 L89.83,255.99 L90.67,256.88 L91.50,257.60 L92.33,257.88 L93.17,258.62 L94.00,260.00 L94.83,260.60 L95.67,260.11 L96.50,260.60 L97.33,260.28 L98.17,261.19 L99.00,260.60 L99.80,260.70 L100.60,261.28 L101.40,260.99 L102.20,261.33 L103.00,261.30 L103.70,261.00 L104.40,261.70 L105.10,262.10 L105.80,261.81 L106.50,261.90 L107.20,262.31 L107.90,262.35 L108.60,261.74 L109.30,262.69 L110.00,262.50 L110.80,262.73 L111.60,262.50 L112.40,262.30 L113.20,263.42 L114.00,263.10 L114.70,263.10 L115.40,263.42 L116.10,263.64 L116.80,263.48 L117.50,263.76 L118.20,263.15 L118.90,263.67 L119.60,263.27 L120.30,263.89 L121.00,263.40 L121.00,263.70 Z" fill="#0a0a0a" stroke="#0a0a0a" stroke-width="0.5" stroke-linejoin="round"/>
<rect x="79.30" y="236.50" width="42.20" height="27.20" fill="none" stroke="#555" stroke-width="0.7" />
<line x1="79.30" y1="236.50" x2="79.30" y2="263.70" stroke="#000" stroke-width="1.0" />
<line x1="79.30" y1="263.70" x2="121.50" y2="263.70" stroke="#000" stroke-width="1.1" />
<line x1="78.30" y1="236.50" x2="79.30" y2="236.50" stroke="#333" stroke-width="0.5" />
<text transform="translate(77.74,236.60) rotate(-90)" font-size="2.9" font-weight="bold" text-anchor="middle" fill="#222" stroke="#222" stroke-width="0">50</text>
<line x1="78.30" y1="241.94" x2="79.30" y2="241.94" stroke="#333" stroke-width="0.5" />
<text transform="translate(77.74,242.04) rotate(-90)" font-size="2.9" font-weight="bold" text-anchor="middle" fill="#222" stroke="#222" stroke-width="0">40</text>
<line x1="78.30" y1="247.38" x2="79.30" y2="247.38" stroke="#333" stroke-width="0.5" />
<text transform="translate(77.74,247.48) rotate(-90)" font-size="2.9" font-weight="bold" text-anchor="middle" fill="#222" stroke="#222" stroke-width="0">30</text>
<line x1="78.30" y1="252.82" x2="79.30" y2="252.82" stroke="#333" stroke-width="0.5" />
<text transform="translate(77.74,252.92) rotate(-90)" font-size="2.9" font-weight="bold" text-anchor="middle" fill="#222" stroke="#222" stroke-width="0">20</text>
<line x1="78.30" y1="258.26" x2="79.30" y2="258.26" stroke="#333" stroke-width="0.5" />
<text transform="translate(77.74,258.36) rotate(-90)" font-size="2.9" font-weight="bold" text-anchor="middle" fill="#222" stroke="#222" stroke-width="0">10</text>
<line x1="78.30" y1="263.70" x2="79.30" y2="263.70" stroke="#333" stroke-width="0.5" />
<text transform="translate(77.74,263.80) rotate(-90)" font-size="2.9" font-weight="bold" text-anchor="middle" fill="#222" stroke="#222" stroke-width="0">0</text>
<text transform="translate(71.19,250.40) rotate(-90)" font-size="3.3" font-weight="bold" text-anchor="middle" fill="#444" stroke="#444" stroke-width="0" textLength="8.80" lengthAdjust="spacingAndGlyphs">Counts</text>
<line x1="79.30" y1="263.70" x2="79.30" y2="265.00" stroke="#222" stroke-width="0.6" />
<text x="79.90" y="268.00" font-size="3.7" font-weight="bold" text-anchor="middle" fill="#000">10<tspan dy="-1.5" font-size="2.8">0</tspan></text>
<line x1="89.85" y1="263.70" x2="89.85" y2="265.00" stroke="#222" stroke-width="0.6" />
<text x="90.45" y="268.00" font-size="3.7" font-weight="bold" text-anchor="middle" fill="#000">10<tspan dy="-1.5" font-size="2.8">1</tspan></text>
<line x1="100.40" y1="263.70" x2="100.40" y2="265.00" stroke="#222" stroke-width="0.6" />
<text x="101.00" y="268.00" font-size="3.7" font-weight="bold" text-anchor="middle" fill="#000">10<tspan dy="-1.5" font-size="2.8">2</tspan></text>
<line x1="110.95" y1="263.70" x2="110.95" y2="265.00" stroke="#222" stroke-width="0.6" />
<text x="111.55" y="268.00" font-size="3.7" font-weight="bold" text-anchor="middle" fill="#000">10<tspan dy="-1.5" font-size="2.8">3</tspan></text>
<line x1="121.50" y1="263.70" x2="121.50" y2="265.00" stroke="#222" stroke-width="0.6" />
<text x="122.10" y="268.00" font-size="3.7" font-weight="bold" text-anchor="middle" fill="#000">10<tspan dy="-1.5" font-size="2.8">4</tspan></text>
<text x="99.65" y="272.28" font-size="3.0" font-weight="bold" text-anchor="middle" fill="#4a4a4a" stroke="#4a4a4a" stroke-width="0" textLength="48.70" lengthAdjust="spacingAndGlyphs">FL1-Height ANNEXIN V FITC</text>
<line x1="100.30" y1="249.80" x2="121.10" y2="249.80" stroke="#555" stroke-width="0.8" />
<line x1="100.30" y1="248.20" x2="100.30" y2="252.40" stroke="#555" stroke-width="0.8" />
<line x1="121.10" y1="248.20" x2="121.10" y2="252.40" stroke="#555" stroke-width="0.8" />
<text x="112.80" y="253.96" font-size="2.4" font-weight="normal" text-anchor="middle" fill="#888" stroke="#888" stroke-width="0">M1</text>
<text x="102.20" y="243.94" font-size="6.5" font-weight="bold" text-anchor="middle" fill="#1a1a1a" stroke="#1a1a1a" stroke-width="0.18" textLength="17.00" lengthAdjust="spacingAndGlyphs">11.2%</text>
<path d="M141.00,263.50 L141.00,263.20 L141.83,262.58 L142.67,262.10 L143.50,262.20 L144.55,261.29 L145.60,260.60 L146.55,258.67 L147.50,257.50 L148.50,255.87 L149.50,255.20 L150.25,254.34 L151.00,253.70 L152.00,255.11 L153.00,255.60 L153.83,256.33 L154.67,256.69 L155.50,256.80 L156.50,257.14 L157.50,258.10 L158.33,258.71 L159.17,258.99 L160.00,259.80 L160.95,259.84 L161.90,260.60 L162.95,259.27 L164.00,258.80 L164.83,257.69 L165.67,257.67 L166.50,256.40 L167.30,255.76 L168.10,254.40 L168.80,255.79 L169.50,256.50 L170.35,258.58 L171.20,260.00 L172.15,260.96 L173.10,262.60 L173.82,262.54 L174.55,263.04 L175.28,263.31 L176.00,263.20 L176.70,263.60 L177.40,263.64 L178.10,262.78 L178.80,263.36 L179.50,263.44 L180.20,263.27 L180.90,262.92 L181.60,263.25 L182.30,262.84 L183.00,263.30 L183.00,263.50 Z" fill="#0a0a0a" stroke="#0a0a0a" stroke-width="0.5" stroke-linejoin="round"/>
<rect x="139.40" y="236.10" width="44.30" height="27.40" fill="none" stroke="#555" stroke-width="0.7" />
<line x1="139.40" y1="236.10" x2="139.40" y2="263.50" stroke="#000" stroke-width="1.0" />
<line x1="139.40" y1="263.50" x2="183.70" y2="263.50" stroke="#000" stroke-width="1.1" />
<line x1="138.40" y1="236.10" x2="139.40" y2="236.10" stroke="#333" stroke-width="0.5" />
<text transform="translate(135.74,236.20) rotate(-90)" font-size="2.9" font-weight="bold" text-anchor="middle" fill="#222" stroke="#222" stroke-width="0">50</text>
<line x1="138.40" y1="241.58" x2="139.40" y2="241.58" stroke="#333" stroke-width="0.5" />
<text transform="translate(135.74,241.68) rotate(-90)" font-size="2.9" font-weight="bold" text-anchor="middle" fill="#222" stroke="#222" stroke-width="0">40</text>
<line x1="138.40" y1="247.06" x2="139.40" y2="247.06" stroke="#333" stroke-width="0.5" />
<text transform="translate(135.74,247.16) rotate(-90)" font-size="2.9" font-weight="bold" text-anchor="middle" fill="#222" stroke="#222" stroke-width="0">30</text>
<line x1="138.40" y1="252.54" x2="139.40" y2="252.54" stroke="#333" stroke-width="0.5" />
<text transform="translate(135.74,252.64) rotate(-90)" font-size="2.9" font-weight="bold" text-anchor="middle" fill="#222" stroke="#222" stroke-width="0">20</text>
<line x1="138.40" y1="258.02" x2="139.40" y2="258.02" stroke="#333" stroke-width="0.5" />
<text transform="translate(135.74,258.12) rotate(-90)" font-size="2.9" font-weight="bold" text-anchor="middle" fill="#222" stroke="#222" stroke-width="0">10</text>
<line x1="138.40" y1="263.50" x2="139.40" y2="263.50" stroke="#333" stroke-width="0.5" />
<text transform="translate(135.74,263.60) rotate(-90)" font-size="2.9" font-weight="bold" text-anchor="middle" fill="#222" stroke="#222" stroke-width="0">0</text>
<text transform="translate(132.19,250.10) rotate(-90)" font-size="3.3" font-weight="bold" text-anchor="middle" fill="#444" stroke="#444" stroke-width="0" textLength="8.80" lengthAdjust="spacingAndGlyphs">Counts</text>
<line x1="139.40" y1="263.50" x2="139.40" y2="264.80" stroke="#222" stroke-width="0.6" />
<text x="140.00" y="267.80" font-size="3.7" font-weight="bold" text-anchor="middle" fill="#000">10<tspan dy="-1.5" font-size="2.8">0</tspan></text>
<line x1="150.47" y1="263.50" x2="150.47" y2="264.80" stroke="#222" stroke-width="0.6" />
<text x="151.07" y="267.80" font-size="3.7" font-weight="bold" text-anchor="middle" fill="#000">10<tspan dy="-1.5" font-size="2.8">1</tspan></text>
<line x1="161.55" y1="263.50" x2="161.55" y2="264.80" stroke="#222" stroke-width="0.6" />
<text x="162.15" y="267.80" font-size="3.7" font-weight="bold" text-anchor="middle" fill="#000">10<tspan dy="-1.5" font-size="2.8">2</tspan></text>
<line x1="172.62" y1="263.50" x2="172.62" y2="264.80" stroke="#222" stroke-width="0.6" />
<text x="173.22" y="267.80" font-size="3.7" font-weight="bold" text-anchor="middle" fill="#000">10<tspan dy="-1.5" font-size="2.8">3</tspan></text>
<line x1="183.70" y1="263.50" x2="183.70" y2="264.80" stroke="#222" stroke-width="0.6" />
<text x="184.30" y="267.80" font-size="3.7" font-weight="bold" text-anchor="middle" fill="#000">10<tspan dy="-1.5" font-size="2.8">4</tspan></text>
<text x="161.00" y="272.08" font-size="3.0" font-weight="bold" text-anchor="middle" fill="#4a4a4a" stroke="#4a4a4a" stroke-width="0" textLength="50.00" lengthAdjust="spacingAndGlyphs">FL1-Height ANNEXIN V FITC</text>
<line x1="161.30" y1="249.40" x2="183.30" y2="249.40" stroke="#555" stroke-width="0.8" />
<line x1="161.30" y1="247.80" x2="161.30" y2="252.00" stroke="#555" stroke-width="0.8" />
<line x1="183.30" y1="247.80" x2="183.30" y2="252.00" stroke="#555" stroke-width="0.8" />
<text x="174.40" y="253.56" font-size="2.4" font-weight="normal" text-anchor="middle" fill="#888" stroke="#888" stroke-width="0">M1</text>
<text x="161.30" y="243.74" font-size="6.5" font-weight="bold" text-anchor="middle" fill="#1a1a1a" stroke="#1a1a1a" stroke-width="0.18" textLength="17.00" lengthAdjust="spacingAndGlyphs">35.1%</text>
<path d="M77.80,304.80 L77.80,299.00 L79.00,294.00 L80.00,286.00 L80.90,281.80 L81.80,281.00 L82.80,282.60 L83.80,286.00 L84.80,289.00 L86.00,290.50 L86.90,291.41 L87.80,292.00 L88.65,293.56 L89.50,294.50 L90.50,296.13 L91.50,297.00 L92.33,298.44 L93.17,299.05 L94.00,299.60 L94.83,300.75 L95.67,300.19 L96.50,301.40 L97.20,301.52 L97.90,302.30 L98.60,302.07 L99.30,302.56 L100.00,302.20 L100.80,301.78 L101.60,302.32 L102.40,302.11 L103.20,302.58 L104.00,302.60 L104.80,302.64 L105.60,301.85 L106.40,302.05 L107.20,302.07 L108.00,302.30 L108.70,302.90 L109.40,302.77 L110.10,302.04 L110.80,302.93 L111.50,302.60 L112.33,302.46 L113.17,303.42 L114.00,303.60 L114.83,303.31 L115.67,303.35 L116.50,304.20 L117.29,304.73 L118.07,303.91 L118.86,303.96 L119.64,305.00 L120.43,304.90 L121.21,304.18 L122.00,304.50 L122.00,304.80 Z" fill="#0a0a0a" stroke="#0a0a0a" stroke-width="0.5" stroke-linejoin="round"/>
<rect x="77.50" y="278.30" width="44.60" height="26.50" fill="none" stroke="#555" stroke-width="0.7" />
<line x1="77.50" y1="278.30" x2="77.50" y2="304.80" stroke="#000" stroke-width="1.0" />
<line x1="77.50" y1="304.80" x2="122.10" y2="304.80" stroke="#000" stroke-width="1.1" />
<line x1="76.50" y1="278.30" x2="77.50" y2="278.30" stroke="#333" stroke-width="0.5" />
<text transform="translate(75.04,278.40) rotate(-90)" font-size="2.9" font-weight="bold" text-anchor="middle" fill="#222" stroke="#222" stroke-width="0">50</text>
<line x1="76.50" y1="283.60" x2="77.50" y2="283.60" stroke="#333" stroke-width="0.5" />
<text transform="translate(75.04,283.70) rotate(-90)" font-size="2.9" font-weight="bold" text-anchor="middle" fill="#222" stroke="#222" stroke-width="0">40</text>
<line x1="76.50" y1="288.90" x2="77.50" y2="288.90" stroke="#333" stroke-width="0.5" />
<text transform="translate(75.04,289.00) rotate(-90)" font-size="2.9" font-weight="bold" text-anchor="middle" fill="#222" stroke="#222" stroke-width="0">30</text>
<line x1="76.50" y1="294.20" x2="77.50" y2="294.20" stroke="#333" stroke-width="0.5" />
<text transform="translate(75.04,294.30) rotate(-90)" font-size="2.9" font-weight="bold" text-anchor="middle" fill="#222" stroke="#222" stroke-width="0">20</text>
<line x1="76.50" y1="299.50" x2="77.50" y2="299.50" stroke="#333" stroke-width="0.5" />
<text transform="translate(75.04,299.60) rotate(-90)" font-size="2.9" font-weight="bold" text-anchor="middle" fill="#222" stroke="#222" stroke-width="0">10</text>
<line x1="76.50" y1="304.80" x2="77.50" y2="304.80" stroke="#333" stroke-width="0.5" />
<text transform="translate(75.04,304.90) rotate(-90)" font-size="2.9" font-weight="bold" text-anchor="middle" fill="#222" stroke="#222" stroke-width="0">0</text>
<text transform="translate(70.29,294.55) rotate(-90)" font-size="3.3" font-weight="bold" text-anchor="middle" fill="#444" stroke="#444" stroke-width="0" textLength="8.80" lengthAdjust="spacingAndGlyphs">Counts</text>
<line x1="77.50" y1="304.80" x2="77.50" y2="306.10" stroke="#222" stroke-width="0.6" />
<text x="78.10" y="309.10" font-size="3.7" font-weight="bold" text-anchor="middle" fill="#000">10<tspan dy="-1.5" font-size="2.8">0</tspan></text>
<line x1="88.65" y1="304.80" x2="88.65" y2="306.10" stroke="#222" stroke-width="0.6" />
<text x="89.25" y="309.10" font-size="3.7" font-weight="bold" text-anchor="middle" fill="#000">10<tspan dy="-1.5" font-size="2.8">1</tspan></text>
<line x1="99.80" y1="304.80" x2="99.80" y2="306.10" stroke="#222" stroke-width="0.6" />
<text x="100.40" y="309.10" font-size="3.7" font-weight="bold" text-anchor="middle" fill="#000">10<tspan dy="-1.5" font-size="2.8">2</tspan></text>
<line x1="110.95" y1="304.80" x2="110.95" y2="306.10" stroke="#222" stroke-width="0.6" />
<text x="111.55" y="309.10" font-size="3.7" font-weight="bold" text-anchor="middle" fill="#000">10<tspan dy="-1.5" font-size="2.8">3</tspan></text>
<line x1="122.10" y1="304.80" x2="122.10" y2="306.10" stroke="#222" stroke-width="0.6" />
<text x="122.70" y="309.10" font-size="3.7" font-weight="bold" text-anchor="middle" fill="#000">10<tspan dy="-1.5" font-size="2.8">4</tspan></text>
<text x="99.65" y="313.38" font-size="3.0" font-weight="bold" text-anchor="middle" fill="#4a4a4a" stroke="#4a4a4a" stroke-width="0" textLength="23.70" lengthAdjust="spacingAndGlyphs">Annexin V-FITC</text>
<line x1="92.80" y1="290.80" x2="121.70" y2="290.80" stroke="#555" stroke-width="0.8" />
<line x1="92.80" y1="289.20" x2="92.80" y2="293.40" stroke="#555" stroke-width="0.8" />
<line x1="121.70" y1="289.20" x2="121.70" y2="293.40" stroke="#555" stroke-width="0.8" />
<text x="110.00" y="294.96" font-size="2.4" font-weight="normal" text-anchor="middle" fill="#888" stroke="#888" stroke-width="0">M1</text>
<text x="102.20" y="286.84" font-size="6.5" font-weight="bold" text-anchor="middle" fill="#1a1a1a" stroke="#1a1a1a" stroke-width="0.18" textLength="17.00" lengthAdjust="spacingAndGlyphs">16.0%</text>
<path d="M139.80,304.80 L139.80,302.00 L141.20,298.50 L142.50,289.80 L143.25,289.55 L144.00,288.60 L145.00,288.30 L146.00,289.14 L147.00,289.20 L147.90,289.38 L148.80,289.60 L149.65,290.76 L150.50,292.50 L151.50,293.20 L152.50,295.10 L153.33,295.80 L154.17,296.06 L155.00,296.60 L155.83,297.25 L156.67,297.11 L157.50,297.60 L158.33,298.52 L159.17,298.53 L160.00,299.40 L160.83,300.23 L161.67,300.61 L162.50,300.80 L163.25,300.72 L164.00,300.90 L164.75,301.09 L165.50,300.90 L166.32,300.46 L167.15,300.81 L167.98,301.04 L168.80,300.60 L169.70,300.85 L170.60,302.03 L171.50,302.20 L172.20,302.76 L172.90,303.29 L173.60,303.02 L174.30,303.07 L175.00,303.90 L175.73,304.31 L176.45,304.37 L177.18,304.00 L177.91,303.63 L178.64,303.81 L179.36,304.39 L180.09,304.03 L180.82,304.88 L181.55,304.50 L182.27,304.09 L183.00,304.50 L183.00,304.80 Z" fill="#0a0a0a" stroke="#0a0a0a" stroke-width="0.5" stroke-linejoin="round"/>
<rect x="139.40" y="278.30" width="44.30" height="26.50" fill="none" stroke="#555" stroke-width="0.7" />
<line x1="139.40" y1="278.30" x2="139.40" y2="304.80" stroke="#000" stroke-width="1.0" />
<line x1="139.40" y1="304.80" x2="183.70" y2="304.80" stroke="#000" stroke-width="1.1" />
<line x1="138.40" y1="278.30" x2="139.40" y2="278.30" stroke="#333" stroke-width="0.5" />
<text transform="translate(136.04,278.40) rotate(-90)" font-size="2.9" font-weight="bold" text-anchor="middle" fill="#222" stroke="#222" stroke-width="0">50</text>
<line x1="138.40" y1="283.60" x2="139.40" y2="283.60" stroke="#333" stroke-width="0.5" />
<text transform="translate(136.04,283.70) rotate(-90)" font-size="2.9" font-weight="bold" text-anchor="middle" fill="#222" stroke="#222" stroke-width="0">40</text>
<line x1="138.40" y1="288.90" x2="139.40" y2="288.90" stroke="#333" stroke-width="0.5" />
<text transform="translate(136.04,289.00) rotate(-90)" font-size="2.9" font-weight="bold" text-anchor="middle" fill="#222" stroke="#222" stroke-width="0">30</text>
<line x1="138.40" y1="294.20" x2="139.40" y2="294.20" stroke="#333" stroke-width="0.5" />
<text transform="translate(136.04,294.30) rotate(-90)" font-size="2.9" font-weight="bold" text-anchor="middle" fill="#222" stroke="#222" stroke-width="0">20</text>
<line x1="138.40" y1="299.50" x2="139.40" y2="299.50" stroke="#333" stroke-width="0.5" />
<text transform="translate(136.04,299.60) rotate(-90)" font-size="2.9" font-weight="bold" text-anchor="middle" fill="#222" stroke="#222" stroke-width="0">10</text>
<line x1="138.40" y1="304.80" x2="139.40" y2="304.80" stroke="#333" stroke-width="0.5" />
<text transform="translate(136.04,304.90) rotate(-90)" font-size="2.9" font-weight="bold" text-anchor="middle" fill="#222" stroke="#222" stroke-width="0">0</text>
<text transform="translate(131.79,294.55) rotate(-90)" font-size="3.3" font-weight="bold" text-anchor="middle" fill="#444" stroke="#444" stroke-width="0" textLength="8.80" lengthAdjust="spacingAndGlyphs">Counts</text>
<line x1="139.40" y1="304.80" x2="139.40" y2="306.10" stroke="#222" stroke-width="0.6" />
<text x="140.00" y="309.10" font-size="3.7" font-weight="bold" text-anchor="middle" fill="#000">10<tspan dy="-1.5" font-size="2.8">0</tspan></text>
<line x1="150.47" y1="304.80" x2="150.47" y2="306.10" stroke="#222" stroke-width="0.6" />
<text x="151.07" y="309.10" font-size="3.7" font-weight="bold" text-anchor="middle" fill="#000">10<tspan dy="-1.5" font-size="2.8">1</tspan></text>
<line x1="161.55" y1="304.80" x2="161.55" y2="306.10" stroke="#222" stroke-width="0.6" />
<text x="162.15" y="309.10" font-size="3.7" font-weight="bold" text-anchor="middle" fill="#000">10<tspan dy="-1.5" font-size="2.8">2</tspan></text>
<line x1="172.62" y1="304.80" x2="172.62" y2="306.10" stroke="#222" stroke-width="0.6" />
<text x="173.22" y="309.10" font-size="3.7" font-weight="bold" text-anchor="middle" fill="#000">10<tspan dy="-1.5" font-size="2.8">3</tspan></text>
<line x1="183.70" y1="304.80" x2="183.70" y2="306.10" stroke="#222" stroke-width="0.6" />
<text x="184.30" y="309.10" font-size="3.7" font-weight="bold" text-anchor="middle" fill="#000">10<tspan dy="-1.5" font-size="2.8">4</tspan></text>
<text x="160.65" y="313.38" font-size="3.0" font-weight="bold" text-anchor="middle" fill="#4a4a4a" stroke="#4a4a4a" stroke-width="0" textLength="23.70" lengthAdjust="spacingAndGlyphs">Annexin V-FITC</text>
<line x1="155.30" y1="291.40" x2="183.30" y2="291.40" stroke="#555" stroke-width="0.8" />
<line x1="155.30" y1="289.80" x2="155.30" y2="294.00" stroke="#555" stroke-width="0.8" />
<line x1="183.30" y1="289.80" x2="183.30" y2="294.00" stroke="#555" stroke-width="0.8" />
<text x="171.50" y="295.56" font-size="2.4" font-weight="normal" text-anchor="middle" fill="#888" stroke="#888" stroke-width="0">M1</text>
<text x="161.30" y="286.94" font-size="6.5" font-weight="bold" text-anchor="middle" fill="#1a1a1a" stroke="#1a1a1a" stroke-width="0.18" textLength="17.00" lengthAdjust="spacingAndGlyphs">30.4%</text>
<path d="M77.80,349.70 L77.80,344.00 L78.50,341.29 L79.20,339.00 L80.40,331.00 L81.40,326.20 L82.50,325.40 L83.80,327.00 L85.00,330.20 L86.10,332.60 L86.85,333.53 L87.60,335.30 L88.30,336.73 L89.00,337.80 L90.00,338.79 L91.00,340.80 L91.90,342.14 L92.80,343.40 L93.53,343.84 L94.27,344.07 L95.00,345.20 L95.93,345.64 L96.87,345.51 L97.80,346.50 L98.50,346.57 L99.20,346.28 L99.90,346.46 L100.60,347.01 L101.30,347.64 L102.00,347.40 L102.75,347.05 L103.50,347.27 L104.25,347.85 L105.00,348.34 L105.75,347.99 L106.50,348.00 L107.25,347.96 L108.00,348.74 L108.75,347.71 L109.50,348.76 L110.25,348.16 L111.00,348.50 L111.79,348.14 L112.57,348.18 L113.36,348.48 L114.14,349.17 L114.93,348.47 L115.71,349.03 L116.50,349.00 L117.29,349.22 L118.07,348.96 L118.86,349.23 L119.64,348.70 L120.43,348.76 L121.21,348.99 L122.00,349.40 L122.00,349.70 Z" fill="#0a0a0a" stroke="#0a0a0a" stroke-width="0.5" stroke-linejoin="round"/>
<rect x="77.50" y="322.50" width="45.00" height="27.20" fill="none" stroke="#555" stroke-width="0.7" />
<line x1="77.50" y1="322.50" x2="77.50" y2="349.70" stroke="#000" stroke-width="1.0" />
<line x1="77.50" y1="349.70" x2="122.50" y2="349.70" stroke="#000" stroke-width="1.1" />
<line x1="76.50" y1="322.50" x2="77.50" y2="322.50" stroke="#333" stroke-width="0.5" />
<text transform="translate(75.04,322.60) rotate(-90)" font-size="2.9" font-weight="bold" text-anchor="middle" fill="#222" stroke="#222" stroke-width="0">50</text>
<line x1="76.50" y1="327.94" x2="77.50" y2="327.94" stroke="#333" stroke-width="0.5" />
<text transform="translate(75.04,328.04) rotate(-90)" font-size="2.9" font-weight="bold" text-anchor="middle" fill="#222" stroke="#222" stroke-width="0">40</text>
<line x1="76.50" y1="333.38" x2="77.50" y2="333.38" stroke="#333" stroke-width="0.5" />
<text transform="translate(75.04,333.48) rotate(-90)" font-size="2.9" font-weight="bold" text-anchor="middle" fill="#222" stroke="#222" stroke-width="0">30</text>
<line x1="76.50" y1="338.82" x2="77.50" y2="338.82" stroke="#333" stroke-width="0.5" />
<text transform="translate(75.04,338.92) rotate(-90)" font-size="2.9" font-weight="bold" text-anchor="middle" fill="#222" stroke="#222" stroke-width="0">20</text>
<line x1="76.50" y1="344.26" x2="77.50" y2="344.26" stroke="#333" stroke-width="0.5" />
<text transform="translate(75.04,344.36) rotate(-90)" font-size="2.9" font-weight="bold" text-anchor="middle" fill="#222" stroke="#222" stroke-width="0">10</text>
<line x1="76.50" y1="349.70" x2="77.50" y2="349.70" stroke="#333" stroke-width="0.5" />
<text transform="translate(75.04,349.80) rotate(-90)" font-size="2.9" font-weight="bold" text-anchor="middle" fill="#222" stroke="#222" stroke-width="0">0</text>
<text transform="translate(70.29,339.10) rotate(-90)" font-size="3.3" font-weight="bold" text-anchor="middle" fill="#444" stroke="#444" stroke-width="0" textLength="8.80" lengthAdjust="spacingAndGlyphs">Counts</text>
<line x1="77.50" y1="349.70" x2="77.50" y2="351.00" stroke="#222" stroke-width="0.6" />
<text x="78.10" y="354.00" font-size="3.7" font-weight="bold" text-anchor="middle" fill="#000">10<tspan dy="-1.5" font-size="2.8">0</tspan></text>
<line x1="88.75" y1="349.70" x2="88.75" y2="351.00" stroke="#222" stroke-width="0.6" />
<text x="89.35" y="354.00" font-size="3.7" font-weight="bold" text-anchor="middle" fill="#000">10<tspan dy="-1.5" font-size="2.8">1</tspan></text>
<line x1="100.00" y1="349.70" x2="100.00" y2="351.00" stroke="#222" stroke-width="0.6" />
<text x="100.60" y="354.00" font-size="3.7" font-weight="bold" text-anchor="middle" fill="#000">10<tspan dy="-1.5" font-size="2.8">2</tspan></text>
<line x1="111.25" y1="349.70" x2="111.25" y2="351.00" stroke="#222" stroke-width="0.6" />
<text x="111.85" y="354.00" font-size="3.7" font-weight="bold" text-anchor="middle" fill="#000">10<tspan dy="-1.5" font-size="2.8">3</tspan></text>
<line x1="122.50" y1="349.70" x2="122.50" y2="351.00" stroke="#222" stroke-width="0.6" />
<text x="123.10" y="354.00" font-size="3.7" font-weight="bold" text-anchor="middle" fill="#000">10<tspan dy="-1.5" font-size="2.8">4</tspan></text>
<text x="99.35" y="358.28" font-size="3.0" font-weight="bold" text-anchor="middle" fill="#4a4a4a" stroke="#4a4a4a" stroke-width="0" textLength="21.90" lengthAdjust="spacingAndGlyphs">Annexin V-FITC</text>
<line x1="93.00" y1="335.50" x2="122.10" y2="335.50" stroke="#555" stroke-width="0.8" />
<line x1="93.00" y1="333.90" x2="93.00" y2="338.10" stroke="#555" stroke-width="0.8" />
<line x1="122.10" y1="333.90" x2="122.10" y2="338.10" stroke="#555" stroke-width="0.8" />
<text x="110.20" y="339.66" font-size="2.4" font-weight="normal" text-anchor="middle" fill="#888" stroke="#888" stroke-width="0">M1</text>
<text x="102.20" y="330.14" font-size="6.5" font-weight="bold" text-anchor="middle" fill="#1a1a1a" stroke="#1a1a1a" stroke-width="0.18" textLength="17.00" lengthAdjust="spacingAndGlyphs">14.4%</text>
<path d="M139.30,349.70 L139.30,347.80 L140.05,346.57 L140.80,346.00 L141.90,340.00 L142.60,337.80 L143.30,334.50 L144.05,333.30 L144.80,333.00 L145.65,334.25 L146.50,335.00 L147.40,335.50 L148.30,337.00 L149.15,337.40 L150.00,338.40 L150.83,339.67 L151.67,339.38 L152.50,340.40 L153.33,341.14 L154.17,341.48 L155.00,342.10 L156.00,342.14 L157.00,342.30 L157.90,341.89 L158.80,341.50 L159.53,341.70 L160.27,343.03 L161.00,343.20 L161.70,343.06 L162.40,343.58 L163.10,343.67 L163.80,344.60 L164.53,343.85 L165.27,343.56 L166.00,343.20 L167.05,343.13 L168.10,342.10 L168.90,342.25 L169.70,342.24 L170.50,343.00 L171.50,342.91 L172.50,343.40 L173.40,345.29 L174.30,346.00 L175.30,346.98 L176.30,349.00 L177.04,349.19 L177.79,348.94 L178.53,349.33 L179.28,348.98 L180.02,349.45 L180.77,349.26 L181.51,349.49 L182.26,349.84 L183.00,349.40 L183.00,349.70 Z" fill="#0a0a0a" stroke="#0a0a0a" stroke-width="0.5" stroke-linejoin="round"/>
<rect x="139.00" y="322.20" width="44.50" height="27.50" fill="none" stroke="#555" stroke-width="0.7" />
<line x1="139.00" y1="322.20" x2="139.00" y2="349.70" stroke="#000" stroke-width="1.0" />
<line x1="139.00" y1="349.70" x2="183.50" y2="349.70" stroke="#000" stroke-width="1.1" />
<line x1="138.00" y1="322.20" x2="139.00" y2="322.20" stroke="#333" stroke-width="0.5" />
<text transform="translate(135.64,322.30) rotate(-90)" font-size="2.9" font-weight="bold" text-anchor="middle" fill="#222" stroke="#222" stroke-width="0">50</text>
<line x1="138.00" y1="327.70" x2="139.00" y2="327.70" stroke="#333" stroke-width="0.5" />
<text transform="translate(135.64,327.80) rotate(-90)" font-size="2.9" font-weight="bold" text-anchor="middle" fill="#222" stroke="#222" stroke-width="0">40</text>
<line x1="138.00" y1="333.20" x2="139.00" y2="333.20" stroke="#333" stroke-width="0.5" />
<text transform="translate(135.64,333.30) rotate(-90)" font-size="2.9" font-weight="bold" text-anchor="middle" fill="#222" stroke="#222" stroke-width="0">30</text>
<line x1="138.00" y1="338.70" x2="139.00" y2="338.70" stroke="#333" stroke-width="0.5" />
<text transform="translate(135.64,338.80) rotate(-90)" font-size="2.9" font-weight="bold" text-anchor="middle" fill="#222" stroke="#222" stroke-width="0">20</text>
<line x1="138.00" y1="344.20" x2="139.00" y2="344.20" stroke="#333" stroke-width="0.5" />
<text transform="translate(135.64,344.30) rotate(-90)" font-size="2.9" font-weight="bold" text-anchor="middle" fill="#222" stroke="#222" stroke-width="0">10</text>
<line x1="138.00" y1="349.70" x2="139.00" y2="349.70" stroke="#333" stroke-width="0.5" />
<text transform="translate(135.64,349.80) rotate(-90)" font-size="2.9" font-weight="bold" text-anchor="middle" fill="#222" stroke="#222" stroke-width="0">0</text>
<text transform="translate(131.39,338.95) rotate(-90)" font-size="3.3" font-weight="bold" text-anchor="middle" fill="#444" stroke="#444" stroke-width="0" textLength="8.80" lengthAdjust="spacingAndGlyphs">Counts</text>
<line x1="139.00" y1="349.70" x2="139.00" y2="351.00" stroke="#222" stroke-width="0.6" />
<text x="139.60" y="354.00" font-size="3.7" font-weight="bold" text-anchor="middle" fill="#000">10<tspan dy="-1.5" font-size="2.8">0</tspan></text>
<line x1="150.12" y1="349.70" x2="150.12" y2="351.00" stroke="#222" stroke-width="0.6" />
<text x="150.72" y="354.00" font-size="3.7" font-weight="bold" text-anchor="middle" fill="#000">10<tspan dy="-1.5" font-size="2.8">1</tspan></text>
<line x1="161.25" y1="349.70" x2="161.25" y2="351.00" stroke="#222" stroke-width="0.6" />
<text x="161.85" y="354.00" font-size="3.7" font-weight="bold" text-anchor="middle" fill="#000">10<tspan dy="-1.5" font-size="2.8">2</tspan></text>
<line x1="172.38" y1="349.70" x2="172.38" y2="351.00" stroke="#222" stroke-width="0.6" />
<text x="172.97" y="354.00" font-size="3.7" font-weight="bold" text-anchor="middle" fill="#000">10<tspan dy="-1.5" font-size="2.8">3</tspan></text>
<line x1="183.50" y1="349.70" x2="183.50" y2="351.00" stroke="#222" stroke-width="0.6" />
<text x="184.10" y="354.00" font-size="3.7" font-weight="bold" text-anchor="middle" fill="#000">10<tspan dy="-1.5" font-size="2.8">4</tspan></text>
<text x="160.50" y="358.28" font-size="3.0" font-weight="bold" text-anchor="middle" fill="#4a4a4a" stroke="#4a4a4a" stroke-width="0" textLength="23.00" lengthAdjust="spacingAndGlyphs">Annexin V-FITC</text>
<line x1="154.80" y1="335.00" x2="183.10" y2="335.00" stroke="#555" stroke-width="0.8" />
<line x1="154.80" y1="333.40" x2="154.80" y2="337.60" stroke="#555" stroke-width="0.8" />
<line x1="183.10" y1="333.40" x2="183.10" y2="337.60" stroke="#555" stroke-width="0.8" />
<text x="171.50" y="339.16" font-size="2.4" font-weight="normal" text-anchor="middle" fill="#888" stroke="#888" stroke-width="0">M1</text>
<text x="161.30" y="330.24" font-size="6.5" font-weight="bold" text-anchor="middle" fill="#1a1a1a" stroke="#1a1a1a" stroke-width="0.18" textLength="17.00" lengthAdjust="spacingAndGlyphs">39.3%</text>
<text x="204.80" y="264.47" font-size="8.8" font-weight="bold" text-anchor="start" fill="#1a1a1a" stroke="#1a1a1a" stroke-width="0.18">ii</text>
<line x1="226.80" y1="272.80" x2="226.80" y2="329.10" stroke="#555" stroke-width="0.9" />
<line x1="226.80" y1="329.10" x2="367.50" y2="329.10" stroke="#555" stroke-width="0.9" />
<line x1="225.30" y1="329.10" x2="226.80" y2="329.10" stroke="#555" stroke-width="0.7" />
<text x="223.80" y="331.19" font-size="5.8" font-weight="bold" text-anchor="end" fill="#1a1a1a" stroke="#1a1a1a" stroke-width="0.18" textLength="8.40" lengthAdjust="spacingAndGlyphs">0.0</text>
<line x1="225.30" y1="315.23" x2="226.80" y2="315.23" stroke="#555" stroke-width="0.7" />
<text x="223.80" y="317.32" font-size="5.8" font-weight="bold" text-anchor="end" fill="#1a1a1a" stroke="#1a1a1a" stroke-width="0.18" textLength="11.30" lengthAdjust="spacingAndGlyphs">10.0</text>
<line x1="225.30" y1="301.36" x2="226.80" y2="301.36" stroke="#555" stroke-width="0.7" />
<text x="223.80" y="303.45" font-size="5.8" font-weight="bold" text-anchor="end" fill="#1a1a1a" stroke="#1a1a1a" stroke-width="0.18" textLength="11.30" lengthAdjust="spacingAndGlyphs">20.0</text>
<line x1="225.30" y1="287.49" x2="226.80" y2="287.49" stroke="#555" stroke-width="0.7" />
<text x="223.80" y="289.58" font-size="5.8" font-weight="bold" text-anchor="end" fill="#1a1a1a" stroke="#1a1a1a" stroke-width="0.18" textLength="11.30" lengthAdjust="spacingAndGlyphs">30.0</text>
<line x1="225.30" y1="273.62" x2="226.80" y2="273.62" stroke="#555" stroke-width="0.7" />
<text x="223.80" y="275.71" font-size="5.8" font-weight="bold" text-anchor="end" fill="#1a1a1a" stroke="#1a1a1a" stroke-width="0.18" textLength="11.30" lengthAdjust="spacingAndGlyphs">40.0</text>
<text transform="translate(208.90,301.60) rotate(-90)" font-size="6.4" font-weight="bold" text-anchor="middle" fill="#1a1a1a" stroke="#1a1a1a" stroke-width="0.05" textLength="58.40" lengthAdjust="spacingAndGlyphs">specific apoptosis%</text>
<rect x="237.95" y="310.25" width="14.30" height="18.85" fill="#fff" stroke="#333" stroke-width="0.9" />
<line x1="245.00" y1="307.30" x2="245.00" y2="309.80" stroke="#333" stroke-width="0.8" />
<line x1="243.10" y1="307.30" x2="246.90" y2="307.30" stroke="#333" stroke-width="0.8" />
<rect x="272.75" y="289.75" width="14.50" height="39.35" fill="#fff" stroke="#333" stroke-width="0.9" />
<line x1="279.90" y1="283.40" x2="279.90" y2="289.30" stroke="#333" stroke-width="0.9" />
<line x1="278.00" y1="283.40" x2="281.80" y2="283.40" stroke="#333" stroke-width="0.9" />
<rect x="308.45" y="303.45" width="13.70" height="25.65" fill="#fff" stroke="#333" stroke-width="0.9" />
<line x1="315.40" y1="300.30" x2="315.40" y2="303.00" stroke="#333" stroke-width="0.9" />
<line x1="313.50" y1="300.30" x2="317.30" y2="300.30" stroke="#333" stroke-width="0.9" />
<rect x="343.85" y="293.95" width="14.20" height="35.15" fill="#fff" stroke="#333" stroke-width="0.9" />
<line x1="350.90" y1="292.70" x2="350.90" y2="293.50" stroke="#333" stroke-width="0.9" />
<line x1="348.70" y1="292.70" x2="353.10" y2="292.70" stroke="#333" stroke-width="0.9" />
<path d="M242.20,287.20 L242.20,279.10 Q242.20,278.00 243.30,278.00 L284.20,278.00 Q285.30,278.00 285.30,279.10 L285.30,282.50" fill="none" stroke="#3a3a3a" stroke-width="0.9"/>
<path d="M313.70,291.90 L313.70,283.80 Q313.70,282.70 314.80,282.70 L351.20,282.70 Q352.30,282.70 352.30,283.80 L352.30,287.30" fill="none" stroke="#3a3a3a" stroke-width="0.9"/>
<text x="256.90" y="273.62" font-size="7.0" font-weight="bold" text-anchor="start" fill="#1a1a1a" stroke="#1a1a1a" stroke-width="0.18" font-style="italic">P</text>
<text x="262.60" y="273.62" font-size="7.0" font-weight="bold" text-anchor="start" fill="#1a1a1a" stroke="#1a1a1a" stroke-width="0.18" textLength="13.60" lengthAdjust="spacingAndGlyphs">&lt;.05</text>
<text x="324.40" y="273.62" font-size="7.0" font-weight="bold" text-anchor="start" fill="#1a1a1a" stroke="#1a1a1a" stroke-width="0.18" font-style="italic">P</text>
<text x="330.00" y="273.62" font-size="7.0" font-weight="bold" text-anchor="start" fill="#1a1a1a" stroke="#1a1a1a" stroke-width="0.18" textLength="13.50" lengthAdjust="spacingAndGlyphs">&lt;.05</text>
<text x="245.40" y="339.98" font-size="5.5" font-weight="bold" text-anchor="middle" fill="#1a1a1a" stroke="#1a1a1a" stroke-width="0.18" textLength="23.20" lengthAdjust="spacingAndGlyphs">8226/LR5</text>
<text x="245.40" y="347.68" font-size="5.5" font-weight="bold" text-anchor="middle" fill="#1a1a1a" stroke="#1a1a1a" stroke-width="0.18" textLength="15.50" lengthAdjust="spacingAndGlyphs">siLuc</text>
<text x="280.80" y="339.98" font-size="5.5" font-weight="bold" text-anchor="middle" fill="#1a1a1a" stroke="#1a1a1a" stroke-width="0.18" textLength="23.20" lengthAdjust="spacingAndGlyphs">8226/LR5</text>
<text x="280.80" y="347.68" font-size="5.5" font-weight="bold" text-anchor="middle" fill="#1a1a1a" stroke="#1a1a1a" stroke-width="0.18" textLength="22.50" lengthAdjust="spacingAndGlyphs">siFANCF</text>
<text x="315.60" y="339.98" font-size="5.5" font-weight="bold" text-anchor="middle" fill="#1a1a1a" stroke="#1a1a1a" stroke-width="0.18" textLength="23.20" lengthAdjust="spacingAndGlyphs">U266/LR6</text>
<text x="315.60" y="347.68" font-size="5.5" font-weight="bold" text-anchor="middle" fill="#1a1a1a" stroke="#1a1a1a" stroke-width="0.18" textLength="15.50" lengthAdjust="spacingAndGlyphs">siLuc</text>
<text x="351.00" y="339.98" font-size="5.5" font-weight="bold" text-anchor="middle" fill="#1a1a1a" stroke="#1a1a1a" stroke-width="0.18" textLength="23.20" lengthAdjust="spacingAndGlyphs">U266/LR6</text>
<text x="351.00" y="347.68" font-size="5.5" font-weight="bold" text-anchor="middle" fill="#1a1a1a" stroke="#1a1a1a" stroke-width="0.18" textLength="22.50" lengthAdjust="spacingAndGlyphs">siFANCF</text>
</svg>
</body>
</html>
